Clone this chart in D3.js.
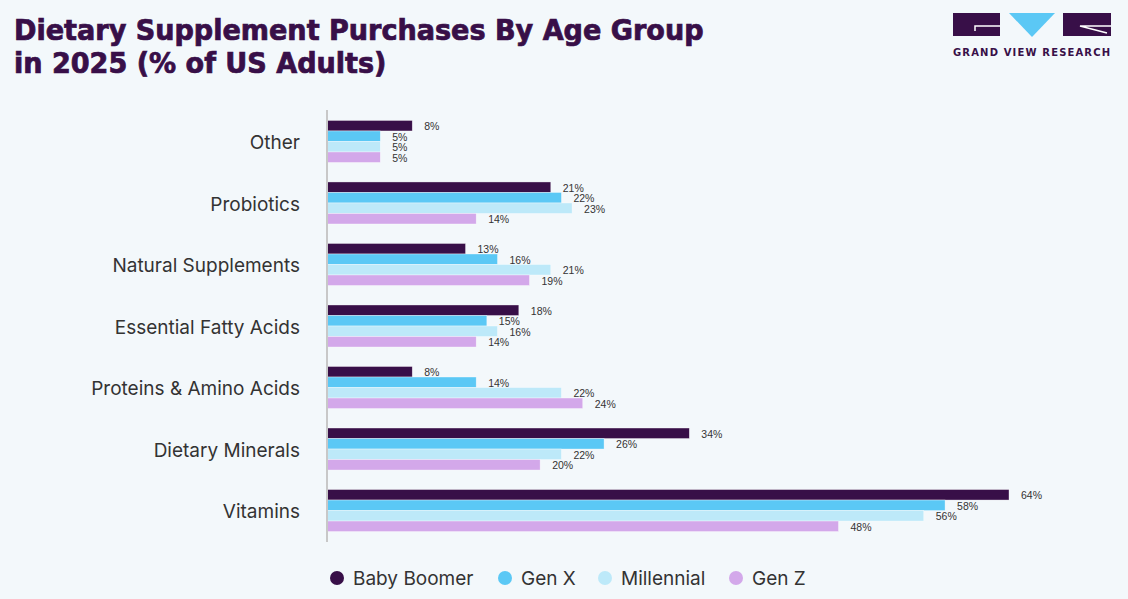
<!DOCTYPE html>
<html>
<head>
<meta charset="utf-8">
<script src="https://cdn.jsdelivr.net/npm/d3@7"></script>
<style>
  html, body { margin: 0; padding: 0; background: #f3f8fb; }
  svg { display: block; }
</style>
</head>
<body>
<div id="chart"></div>
<script>
const categories = ["Other", "Probiotics", "Natural Supplements", "Essential Fatty Acids", "Proteins & Amino Acids", "Dietary Minerals", "Vitamins"]
const seriesNames = ["Baby Boomer", "Gen X", "Millennial", "Gen Z"]
const babyBoomer = [8, 21, 13, 18, 8, 34, 64]
const genX = [5, 22, 16, 15, 14, 26, 58]
const millennial = [5, 23, 21, 16, 22, 22, 56]
const genZ = [5, 14, 19, 14, 24, 20, 48]
const colors = ["#380f48", "#5bc8f5", "#bde9f9", "#d3a8ea"]

const values = [babyBoomer, genX, millennial, genZ]
const rows = categories.map((c, i) => ({
  category: c,
  vals: seriesNames.map((s, j) => ({ key: s, value: values[j][i] }))
}))

const width = 1128
const height = 599
const axisX = 327

const svg = d3.create("svg")
  .attr("width", width)
  .attr("height", height)
  .attr("viewBox", [0, 0, width, height])

svg.append("rect").attr("width", width).attr("height", height).attr("fill", "#f3f8fb")

// title (heavy condensed look: stretch a bit + thin stroke)
const title = svg.append("g")
  .attr("transform", "translate(14,0) scale(1.075,1)")
  .attr("fill", "#380f48")
  .attr("stroke", "#380f48")
  .attr("stroke-width", 0.7)
  .attr("font-family", "'DejaVu Sans Condensed', 'DejaVu Sans'")
  .attr("font-weight", "bold")
  .attr("font-size", 28)
title.append("text").attr("x", 0).attr("y", 40).text("Dietary Supplement Purchases By Age Group")
title.append("text").attr("x", 0).attr("y", 73).text("in 2025 (% of US Adults)")

// logo
const logo = svg.append("g")
logo.append("rect").attr("x", 953).attr("y", 13).attr("width", 47).attr("height", 23).attr("fill", "#380f48")
logo.append("path").attr("d", "M1000,26 L975,26 L975,31").attr("fill", "none").attr("stroke", "#fff").attr("stroke-width", 1.5)
logo.append("path").attr("d", "M1009,13 L1055,13 L1032,37 Z").attr("fill", "#5bc8f5")
logo.append("rect").attr("x", 1063).attr("y", 13).attr("width", 48).attr("height", 23).attr("fill", "#380f48")
logo.append("path").attr("d", "M1111,26 L1080,26 L1107,33").attr("fill", "none").attr("stroke", "#fff").attr("stroke-width", 1.5)
logo.append("text").attr("x", 953).attr("y", 56)
  .attr("font-family", "'DejaVu Sans', sans-serif").attr("font-weight", "bold")
  .attr("font-size", 10).attr("letter-spacing", 0.9).attr("fill", "#380f48")
  .attr("textLength", 158).attr("lengthAdjust", "spacing")
  .text("GRAND VIEW RESEARCH")

// scales
const x = d3.scaleLinear().domain([0, 64]).range([axisX, 1009])
const y = d3.scaleBand().domain(categories).range([110, 542]).paddingInner(0.317).paddingOuter(0.17)
const ySub = d3.scaleBand().domain(seriesNames).range([0, y.bandwidth()])

// category labels
svg.append("g")
  .selectAll("text")
  .data(categories)
  .join("text")
  .attr("x", 300)
  .attr("y", d => y(d) + y.bandwidth() / 2 + 1)
  .attr("dy", "0.35em")
  .attr("text-anchor", "end")
  .attr("font-family", "Inter, 'Open Sans', sans-serif")
  .attr("font-size", 19)
  .attr("fill", "#333")
  .text(d => d)

// bars
const group = svg.append("g")
  .selectAll("g")
  .data(rows)
  .join("g")
  .attr("transform", d => `translate(0, ${y(d.category)})`)

group.selectAll("rect")
  .data(d => d.vals)
  .join("rect")
  .attr("x", x(0))
  .attr("y", d => ySub(d.key))
  .attr("width", d => x(d.value) - x(0))
  .attr("height", ySub.bandwidth())
  .attr("fill", (d, i) => colors[i])
  .attr("stroke", "#ffffff")
  .attr("stroke-opacity", 0.6)
  .attr("stroke-width", 0.6)

group.selectAll("text")
  .data(d => d.vals)
  .join("text")
  .attr("x", d => x(d.value) + 12)
  .attr("y", d => ySub(d.key) + ySub.bandwidth() / 2 + 1)
  .attr("dy", "0.35em")
  .attr("font-family", "'Liberation Sans', Arial, sans-serif")
  .attr("font-size", 10.5)
  .attr("fill", "#333")
  .text(d => d.value + "%")

// axis line
svg.append("line")
  .attr("x1", axisX).attr("x2", axisX)
  .attr("y1", 110).attr("y2", 542)
  .attr("stroke", "#c8c8c8")
  .attr("stroke-width", 2)

// legend
const legendX = [337, 505, 605, 736]
const legend = svg.append("g")
  .selectAll("g")
  .data(seriesNames)
  .join("g")
  .attr("transform", (d, i) => `translate(${legendX[i]}, 578)`)
legend.append("circle").attr("r", 7).attr("fill", (d, i) => colors[i])
legend.append("text")
  .attr("x", 16)
  .attr("dy", "0.35em")
  .attr("font-family", "Inter, 'Open Sans', sans-serif")
  .attr("font-size", 19)
  .attr("fill", "#333")
  .text(d => d)

document.querySelector("#chart").append(svg.node())
</script>
</body>
</html>
